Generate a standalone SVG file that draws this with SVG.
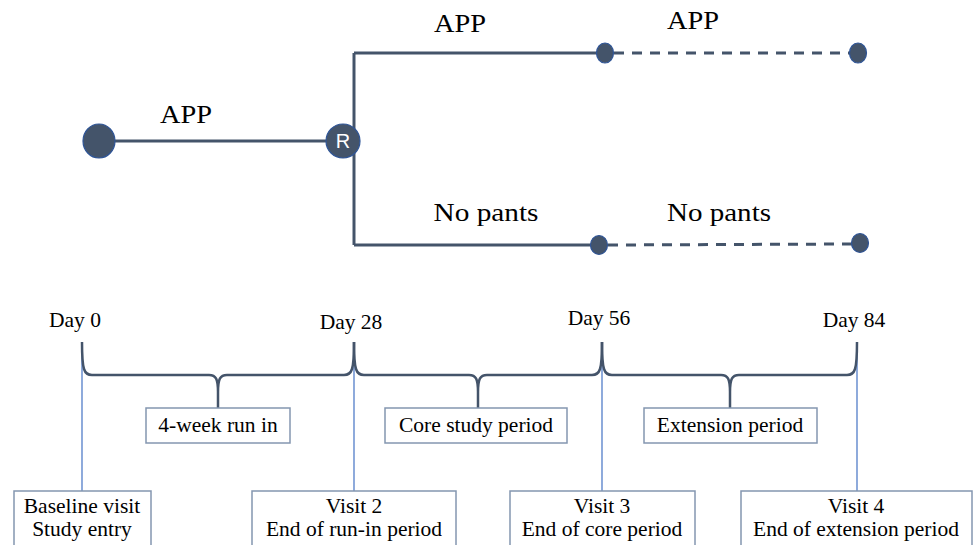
<svg xmlns="http://www.w3.org/2000/svg" width="973" height="545" viewBox="0 0 973 545">
<style>
.main{fill:none;stroke:#44546A;stroke-width:3}
.dash{fill:none;stroke:#44546A;stroke-width:3;stroke-dasharray:10,8}
.brace{fill:none;stroke:#44546A;stroke-width:2.5}
.thin{fill:none;stroke:#4472C4;stroke-width:1.2}
.dot{fill:#44546A;stroke:#2F5597;stroke-width:1.2}
.box{fill:#fff;stroke:#8496B0;stroke-width:1.5}
.lbl{font-family:"Liberation Serif","DejaVu Serif",serif;font-size:25px;fill:#000;text-anchor:middle}
.t{font-family:"Liberation Serif","DejaVu Serif",serif;font-size:21.5px;fill:#000;text-anchor:middle}
.r{font-family:"Liberation Sans",Arial,sans-serif;font-size:20px;fill:#fff;text-anchor:middle}
</style>
<g id="connectors">
<line class="main" x1="99" y1="141" x2="343" y2="141"/>
<path class="main" d="M354,53 L354,245"/>
<line class="main" x1="354" y1="53" x2="605" y2="53"/>
<line class="main" x1="354" y1="245" x2="599" y2="245"/>
<line class="dash" x1="614" y1="53" x2="850" y2="53"/>
<line class="dash" x1="608" y1="245" x2="852" y2="244"/>
<line class="thin" x1="82" y1="342" x2="82" y2="491"/>
<line class="thin" x1="354" y1="342" x2="354" y2="491"/>
<line class="thin" x1="602" y1="342" x2="602" y2="491"/>
<line class="thin" x1="857" y1="342" x2="857" y2="491"/>
<path class="brace" d="M82,342 C82,370 84,375 92,375 L209,375 C216,375 218,379 218,392 L218,408 M218,392 C218,379 220,375 227,375 L344,375 C352,375 354,370 354,342"/>
<path class="brace" d="M354,342 C354,370 356,375 364,375 L469,375 C476,375 478,379 478,392 L478,408 M478,392 C478,379 480,375 487,375 L592,375 C600,375 602,370 602,342"/>
<path class="brace" d="M602,342 C602,370 604,375 612,375 L721,375 C728,375 730,379 730,392 L730,408 M730,392 C730,379 732,375 739,375 L847,375 C855,375 857,370 857,342"/>
</g>
<g id="start"><ellipse class="dot" cx="99" cy="141" rx="16" ry="17"/></g>
<g id="randomise"><circle class="dot" cx="343" cy="141" r="17"/><text class="r" x="343" y="148">R</text></g>
<g id="app-end-core"><ellipse class="dot" cx="605" cy="53" rx="8.5" ry="10"/></g>
<g id="app-end-ext"><ellipse class="dot" cx="858" cy="53" rx="8.5" ry="10"/></g>
<g id="np-end-core"><ellipse class="dot" cx="599" cy="245" rx="8.5" ry="9.5"/></g>
<g id="np-end-ext"><ellipse class="dot" cx="860" cy="243" rx="8.5" ry="9.5"/></g>
<g id="labels">
<text class="lbl" x="186" y="123" textLength="52" lengthAdjust="spacingAndGlyphs">APP</text>
<text class="lbl" x="460" y="32" textLength="52" lengthAdjust="spacingAndGlyphs">APP</text>
<text class="lbl" x="693" y="29" textLength="52" lengthAdjust="spacingAndGlyphs">APP</text>
<text class="lbl" x="486" y="221" textLength="105" lengthAdjust="spacingAndGlyphs">No pants</text>
<text class="lbl" x="719" y="221" textLength="104" lengthAdjust="spacingAndGlyphs">No pants</text>
<text class="t" x="75" y="327">Day 0</text>
<text class="t" x="351" y="329">Day 28</text>
<text class="t" x="599" y="325">Day 56</text>
<text class="t" x="854" y="327">Day 84</text>
</g>
<g id="runin"><rect class="box" x="146" y="408" width="144" height="35"/><text class="t" x="218" y="432">4-week run in</text></g>
<g id="core"><rect class="box" x="385" y="408" width="182" height="35"/><text class="t" x="476" y="432">Core study period</text></g>
<g id="extension"><rect class="box" x="644" y="408" width="173" height="35"/><text class="t" x="730" y="432">Extension period</text></g>
<g id="visit1"><rect class="box" x="14" y="491" width="137" height="60"/><text class="t" x="82" y="513">Baseline visit</text><text class="t" x="82" y="536">Study entry</text></g>
<g id="visit2"><rect class="box" x="252" y="491" width="204" height="60"/><text class="t" x="354" y="513">Visit 2</text><text class="t" x="354" y="536">End of run-in period</text></g>
<g id="visit3"><rect class="box" x="510" y="491" width="185" height="60"/><text class="t" x="602" y="513">Visit 3</text><text class="t" x="602" y="536">End of core period</text></g>
<g id="visit4"><rect class="box" x="741" y="491" width="231" height="60"/><text class="t" x="856" y="513">Visit 4</text><text class="t" x="856" y="536">End of extension period</text></g>
</svg>
